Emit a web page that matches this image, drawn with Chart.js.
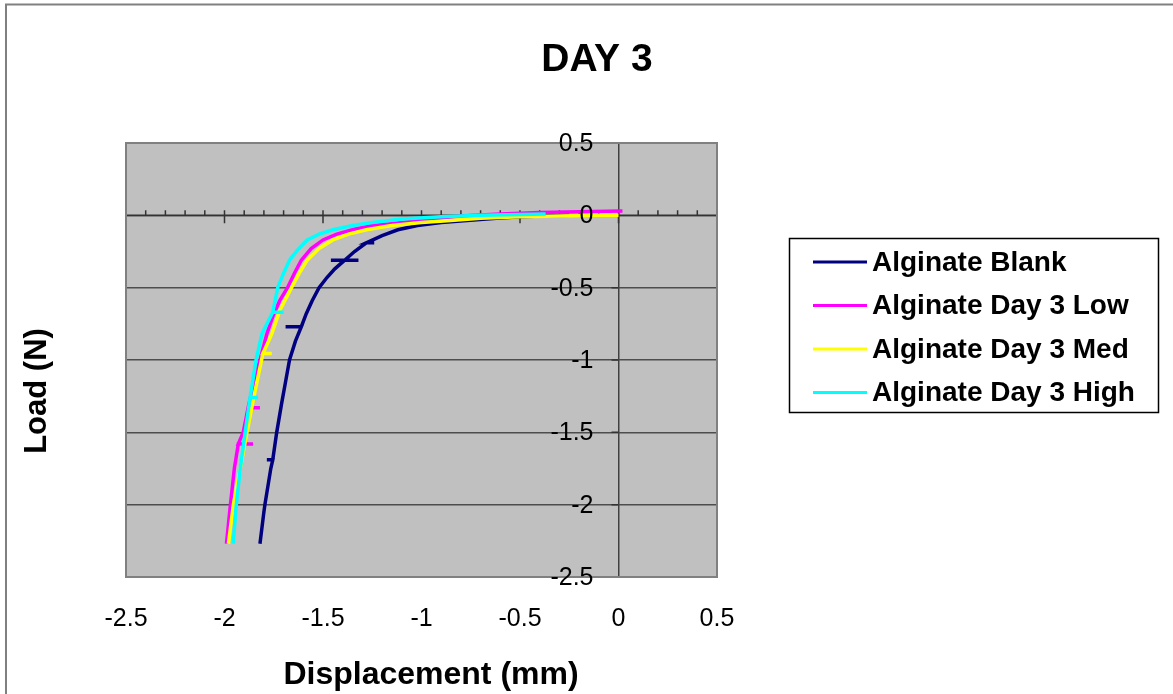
<!DOCTYPE html>
<html>
<head>
<meta charset="utf-8">
<title>DAY 3</title>
<script src="https://cdn.jsdelivr.net/npm/chart.js@4.4.0/dist/chart.umd.min.js"></script>
<style>
  html, body { margin: 0; padding: 0; background: #fff; }
  #wrap { width: 1173px; height: 694px; }
</style>
</head>
<body>
<div id="wrap"><canvas id="loadChart" width="1173" height="694"></canvas></div>
<script>
// Axis ticks
const xTicks = [-2.5, -2, -1.5, -1, -0.5, 0, 0.5];
const yTicks = [-2.5, -2, -1.5, -1, -0.5, 0, 0.5];

// Series names and colours
const seriesNames = ['Alginate Blank', 'Alginate Day 3 Low', 'Alginate Day 3 Med', 'Alginate Day 3 High'];
const seriesColors = ['#000080', '#ff00ff', '#ffff00', '#00ffff'];

// Displacement (mm) / Load (N) (short dashes are the noisy readings)
const blankX = [-1.82, -1.80, -1.795, -1.765, -1.755, -1.785, -1.755, -1.735, -1.71, -1.69, -1.67, -1.64, -1.61, -1.69, -1.61,
  -1.585, -1.555, -1.52, -1.48, -1.44, -1.39, -1.46, -1.32, -1.39, -1.34, -1.28, -1.24, -1.28, -1.20, -1.12, -1.02, -0.90,
  -0.77, -0.62, -0.50, -0.35, -0.25];
const blankY = [-2.27, -2.05, -2.0, -1.75, -1.69, -1.69, -1.69, -1.5, -1.3, -1.15, -1.0, -0.87, -0.77, -0.77, -0.77,
  -0.68, -0.59, -0.5, -0.43, -0.37, -0.31, -0.31, -0.31, -0.31, -0.25, -0.19, -0.19, -0.19, -0.14, -0.10, -0.07, -0.05,
  -0.035, -0.02, -0.01, -0.003, 0.0];

const lowX = [-1.99, -1.97, -1.95, -1.93, -1.855, -1.93, -1.905, -1.88, -1.82, -1.88, -1.85, -1.82, -1.785, -1.755, -1.72,
  -1.68, -1.645, -1.61, -1.56, -1.50, -1.43, -1.35, -1.25, -1.09, -0.95, -0.80, -0.60, -0.40, -0.20, 0.02];
const lowY = [-2.27, -2.0, -1.75, -1.58, -1.58, -1.58, -1.5, -1.33, -1.33, -1.33, -1.15, -1.0, -0.82, -0.7, -0.59,
  -0.5, -0.4, -0.31, -0.23, -0.17, -0.13, -0.10, -0.07, -0.05, -0.025, -0.005, 0.01, 0.02, 0.025, 0.03];

const medX = [-1.98, -1.955, -1.92, -1.886, -1.85, -1.805, -1.76, -1.805, -1.76, -1.72, -1.66, -1.62, -1.58, -1.52, -1.45,
  -1.37, -1.28, -1.15, -1.0, -0.85, -0.70, -0.50, -0.30, -0.10, 0.0];
const medY = [-2.27, -2.0, -1.75, -1.5, -1.25, -0.955, -0.955, -0.955, -0.82, -0.66, -0.5, -0.4, -0.31, -0.23, -0.17,
  -0.13, -0.10, -0.07, -0.05, -0.035, -0.02, -0.01, -0.005, 0.0, 0.0];

const highX = [-1.956, -1.94, -1.92, -1.895, -1.87, -1.83, -1.87, -1.84, -1.81, -1.755, -1.70, -1.755, -1.73, -1.70, -1.67,
  -1.63, -1.58, -1.52, -1.45, -1.35, -1.25, -1.10, -0.90, -0.70, -0.50, -0.37];
const highY = [-2.27, -2.0, -1.75, -1.5, -1.26, -1.26, -1.26, -1.0, -0.82, -0.67, -0.67, -0.67, -0.5, -0.4, -0.31,
  -0.24, -0.17, -0.13, -0.10, -0.07, -0.05, -0.025, -0.01, 0.0, 0.005, 0.01];

const seriesX = [blankX, lowX, medX, highX];
const seriesY = [blankY, lowY, medY, highY];

const FONT = '"Liberation Sans", Arial, sans-serif';

const datasets = seriesNames.map((name, i) => ({
  label: name,
  data: seriesX[i].map((x, j) => ({ x: x, y: seriesY[i][j] })),
  showLine: true,
  borderColor: seriesColors[i],
  backgroundColor: seriesColors[i],
  borderWidth: 3.5,
  pointRadius: 0,
  tension: 0,
  order: seriesNames.length - i
}));

// Excel-style frame, plot background, axis ticks, titles and legend
const excelLook = {
  id: 'excelLook',
  beforeDraw(chart) {
    const { ctx, chartArea: a } = chart;
    ctx.save();
    ctx.fillStyle = '#fff';
    ctx.fillRect(0, 0, chart.width, chart.height);
    ctx.strokeStyle = '#808080';
    ctx.lineWidth = 2;
    ctx.beginPath();
    ctx.moveTo(6, chart.height);
    ctx.lineTo(6, 4.5);
    ctx.lineTo(chart.width, 4.5);
    ctx.stroke();
    ctx.fillStyle = '#c0c0c0';
    ctx.fillRect(a.left, a.top, a.right - a.left, a.bottom - a.top);
    ctx.restore();
  },
  beforeDatasetsDraw(chart) {
    const { ctx, scales: { x, y } } = chart;
    const x0 = x.getPixelForValue(0);
    const y0 = y.getPixelForValue(0);
    ctx.save();
    ctx.strokeStyle = '#333';
    ctx.lineWidth = 1.5;
    ctx.beginPath();
    ctx.moveTo(x.left, y0);
    ctx.lineTo(x.right, y0);
    for (let i = -25; i <= 5; i++) {
      const px = x.getPixelForValue(i / 10);
      if (i % 5 === 0) { ctx.moveTo(px, y0 - 5); ctx.lineTo(px, y0 + 8); }
      else { ctx.moveTo(px, y0 - 5); ctx.lineTo(px, y0); }
    }
    yTicks.forEach(v => {
      const py = y.getPixelForValue(v);
      ctx.moveTo(x0 - 7, py);
      ctx.lineTo(x0, py);
    });
    ctx.stroke();
    ctx.restore();
  },
  afterDraw(chart) {
    const { ctx, chartArea: a, scales: { x, y } } = chart;
    const x0 = x.getPixelForValue(0);
    ctx.save();
    // plot border
    ctx.strokeStyle = '#808080';
    ctx.lineWidth = 2;
    ctx.strokeRect(a.left, a.top, a.right - a.left, a.bottom - a.top);

    // y tick labels sit next to the x = 0 axis
    ctx.fillStyle = '#000';
    ctx.font = '25px ' + FONT;
    ctx.textAlign = 'right';
    ctx.textBaseline = 'middle';
    yTicks.forEach(v => ctx.fillText(String(v), x0 - 25, y.getPixelForValue(v) + 1));

    // titles
    ctx.textAlign = 'center';
    ctx.font = 'bold 39px ' + FONT;
    ctx.fillText('DAY 3', 597, 60);
    ctx.font = 'bold 32px ' + FONT;
    ctx.fillText('Displacement (mm)', 431, 675);
    ctx.save();
    ctx.translate(37, 391);
    ctx.rotate(-Math.PI / 2);
    ctx.font = 'bold 31px ' + FONT;
    ctx.fillText('Load (N)', 0, 0);
    ctx.restore();

    // legend
    ctx.strokeStyle = '#000';
    ctx.lineWidth = 1.5;
    ctx.strokeRect(789.5, 238.5, 369, 174);
    ctx.font = 'bold 28px ' + FONT;
    ctx.textAlign = 'left';
    seriesNames.forEach((name, i) => {
      const ly = 262 + i * 43.5;
      ctx.strokeStyle = seriesColors[i];
      ctx.lineWidth = 3;
      ctx.beginPath();
      ctx.moveTo(813, ly);
      ctx.lineTo(867, ly);
      ctx.stroke();
      ctx.fillStyle = '#000';
      ctx.fillText(name, 872, ly + 1);
    });
    ctx.restore();
  }
};

new Chart(document.getElementById('loadChart'), {
  type: 'scatter',
  data: { datasets: datasets },
  options: {
    responsive: false,
    animation: false,
    layout: { padding: { top: 143, right: 456, bottom: 0, left: 0 } },
    plugins: {
      legend: { display: false },
      title: { display: false },
      tooltip: { enabled: false }
    },
    scales: {
      x: {
        type: 'linear',
        min: -2.5,
        max: 0.5,
        afterBuildTicks: s => { s.ticks = xTicks.map(v => ({ value: v })); },
        afterFit: s => { s.height = 117; },
        grid: {
          color: c => (c.tick && c.tick.value === 0 ? '#404040' : 'rgba(0,0,0,0)'),
          lineWidth: 1.5,
          drawTicks: false
        },
        border: { display: false },
        ticks: {
          color: '#000',
          font: { family: FONT, size: 25 },
          padding: 27,
          maxRotation: 0,
          autoSkip: false,
          callback: v => String(v)
        }
      },
      y: {
        type: 'linear',
        min: -2.5,
        max: 0.5,
        afterBuildTicks: s => { s.ticks = yTicks.map(v => ({ value: v })); },
        afterFit: s => { s.width = 126; },
        grid: { color: '#4d4d4d', lineWidth: 1.5, drawTicks: false },
        border: { display: false },
        ticks: { display: false }
      }
    }
  },
  plugins: [excelLook]
});
</script>
</body>
</html>
